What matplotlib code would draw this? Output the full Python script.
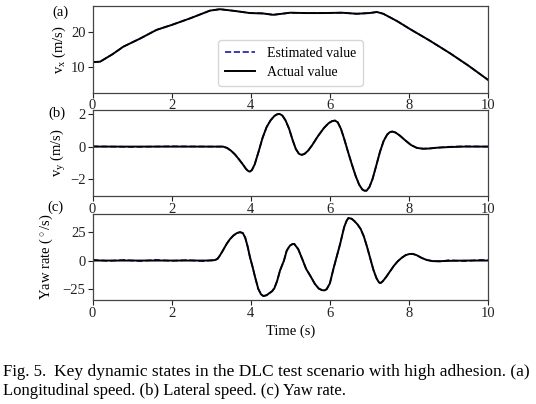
import matplotlib
matplotlib.use("Agg")
import matplotlib.pyplot as plt

plt.rcParams['font.family'] = ['Liberation Serif', 'DejaVu Serif']
plt.rcParams['mathtext.fontset'] = 'custom'
plt.rcParams['mathtext.rm'] = 'Liberation Serif'
plt.rcParams['mathtext.it'] = 'Liberation Serif:italic'

# (a) longitudinal speed
t_vx = [0.0, 0.19, 0.5, 0.78, 1.2, 1.62, 2.0, 2.47, 2.97, 3.22, 3.6, 3.98, 4.3,
        4.57, 5.0, 5.4, 5.84, 6.3, 6.68, 7.0, 7.19, 7.35, 7.7, 8.03, 8.5, 9.04,
        9.5, 10.0]
vx_act = [11.3, 11.4, 13.5, 15.7, 18.0, 20.5, 21.9, 23.8, 26.0, 26.4, 25.9, 25.3,
          25.2, 24.8, 25.4, 25.3, 25.3, 25.4, 25.1, 25.3, 25.6, 25.1, 23.0, 20.7,
          17.6, 13.8, 10.3, 6.2]
vx_est = [11.2, 11.4, 13.5, 15.7, 18.0, 20.5, 21.9, 23.8, 26.0, 26.4, 25.9, 25.3,
          25.2, 24.8, 25.4, 25.3, 25.3, 25.4, 25.1, 25.3, 25.6, 25.1, 23.0, 20.7,
          17.6, 13.8, 10.3, 6.2]

# (b) lateral speed
t_vy = [0.0, 1.0, 2.0, 3.0, 3.3, 3.4, 3.5, 3.6, 3.7, 3.8, 3.88, 3.94, 3.98, 4.03,
        4.1, 4.2, 4.3, 4.4, 4.5, 4.6, 4.67, 4.73, 4.8, 4.88, 4.97, 5.06, 5.14, 5.22,
        5.29, 5.36, 5.45, 5.55, 5.7, 5.85, 5.97, 6.06, 6.13, 6.2, 6.28, 6.36, 6.45,
        6.55, 6.65, 6.74, 6.82, 6.88, 6.93, 7.0, 7.08, 7.17, 7.27, 7.36, 7.45, 7.52,
        7.58, 7.66, 7.76, 7.9, 8.05, 8.2, 8.35, 8.5, 8.7, 9.0, 9.4, 10.0]
vy_act = [0.0, 0.0, 0.0, 0.0, 0.0, -0.08, -0.25, -0.48, -0.78, -1.1, -1.38, -1.52,
          -1.54, -1.45, -1.1, -0.3, 0.55, 1.2, 1.62, 1.9, 2.0, 2.02, 1.92, 1.62, 1.1,
          0.4, -0.15, -0.45, -0.51, -0.45, -0.25, 0.08, 0.65, 1.15, 1.45, 1.58, 1.61,
          1.5, 1.1, 0.5, -0.25, -1.05, -1.8, -2.35, -2.65, -2.73, -2.72, -2.5, -2.0,
          -1.2, -0.3, 0.35, 0.75, 0.9, 0.93, 0.87, 0.7, 0.4, 0.1, -0.08, -0.13,
          -0.12, -0.07, -0.03, 0.0, 0.0]
vy_est = [0.02, -0.02, 0.02, 0.0, 0.0, -0.08, -0.25, -0.48, -0.78, -1.1, -1.38, -1.52,
          -1.54, -1.45, -1.1, -0.3, 0.55, 1.2, 1.62, 1.9, 2.0, 2.02, 1.92, 1.62, 1.1,
          0.4, -0.15, -0.45, -0.51, -0.45, -0.25, 0.08, 0.65, 1.15, 1.45, 1.58, 1.61,
          1.5, 1.1, 0.5, -0.25, -1.05, -1.8, -2.35, -2.65, -2.73, -2.72, -2.5, -2.0,
          -1.2, -0.3, 0.35, 0.75, 0.9, 0.93, 0.87, 0.7, 0.4, 0.1, -0.08, -0.13,
          -0.12, -0.07, -0.01, 0.02, 0.0]

# (c) yaw rate
t_r = [0.0, 0.4, 0.8, 1.2, 1.6, 2.0, 2.4, 2.8, 3.0, 3.1, 3.16, 3.22, 3.3, 3.39,
       3.47, 3.56, 3.65, 3.73, 3.8, 3.86, 3.92, 3.98, 4.05, 4.11, 4.19, 4.26, 4.32,
       4.4, 4.47, 4.54, 4.6, 4.67, 4.74, 4.84, 4.91, 4.99, 5.05, 5.1, 5.2, 5.3, 5.4,
       5.5, 5.62, 5.72, 5.8, 5.86, 5.92, 6.0, 6.09, 6.17, 6.26, 6.36, 6.42, 6.47,
       6.55, 6.62, 6.7, 6.78, 6.86, 6.94, 7.02, 7.1, 7.18, 7.24, 7.28, 7.34, 7.42,
       7.52, 7.62, 7.72, 7.82, 7.92, 8.02, 8.1, 8.2, 8.32, 8.45, 8.6, 8.8, 9.0, 9.4,
       9.8, 10.0]
r_act = [0.0, 0.0, 0.0, 0.0, 0.0, 0.0, 0.0, 0.0, 0.0, 0.5, 1.5, 4.4, 9.0, 14.5,
         18.5, 21.8, 24.0, 24.8, 24.0, 20.0, 12.5, 3.0, -6.0, -14.5, -24.7, -29.5,
         -31.0, -30.3, -28.5, -26.8, -24.0, -17.5, -8.7, 0.0, 8.7, 13.0, 14.3, 14.5,
         10.0, 1.5, -7.3, -13.0, -20.3, -24.5, -25.8, -26.1, -25.0, -20.0, -7.3, 3.0,
         14.5, 29.0, 34.5, 37.2, 36.5, 34.5, 31.5, 27.5, 21.0, 12.0, 2.0, -8.0,
         -15.5, -19.0, -19.7, -18.0, -14.5, -9.5, -4.5, -0.5, 2.5, 4.8, 5.8, 5.8,
         4.6, 2.3, 0.5, -0.5, -0.5, -0.3, 0.0, 0.0, 0.0]
r_est = [0.8, -0.4, 0.6, -0.5, 0.7, -0.3, 0.5, -0.6, 0.4, 0.5, 1.5, 4.4, 9.0, 14.5,
         18.5, 21.8, 24.0, 24.8, 24.0, 20.0, 12.5, 3.0, -6.0, -14.5, -24.7, -29.5,
         -31.0, -30.3, -28.5, -26.8, -24.0, -17.5, -8.7, 0.0, 8.7, 13.0, 14.3, 14.5,
         10.0, 1.5, -7.3, -13.0, -20.3, -24.5, -25.8, -26.1, -25.0, -20.0, -7.3, 3.0,
         14.5, 29.0, 34.5, 37.2, 36.5, 34.5, 31.5, 27.5, 21.0, 12.0, 2.0, -8.0,
         -15.5, -19.0, -19.7, -18.0, -14.5, -9.5, -4.5, -0.5, 2.5, 4.8, 5.8, 5.8,
         4.6, 2.3, 0.5, -0.5, -0.9, 0.4, -0.5, 0.6, 0.3]

x_ticks = [0, 2, 4, 6, 8, 10]

fig = plt.figure(figsize=(5.36, 4.04), dpi=100)
ax_a = fig.add_axes([0.1726, 0.771, 0.738, 0.214])
ax_b = fig.add_axes([0.1726, 0.515, 0.738, 0.213])
ax_c = fig.add_axes([0.1726, 0.257, 0.738, 0.214])

panels = [
    (ax_a, t_vx, vx_est, vx_act, (2.6, 27.3), [10, 20], r'v$_\mathrm{x}$ (m/s)', -0.063),
    (ax_b, t_vy, vy_est, vy_act, (-3.05, 2.27), [-2, 0, 2], r'v$_\mathrm{y}$ (m/s)', -0.063),
    (ax_c, t_r, r_est, r_act, (-34.6, 40.9), [-25, 0, 25], r'Yaw rate ($^\circ$/s)', -0.095),
]

for ax, t, est, act, ylim, yt, ylab, lx in panels:
    ax.plot(t, est, '--', color='#1a1aa0', lw=1.2, label='Estimated value')
    ax.plot(t, act, '-', color='black', lw=1.4, label='Actual value')
    ax.set_xlim(0, 10)
    ax.set_ylim(*ylim)
    ax.set_xticks(x_ticks)
    ax.set_yticks(yt)
    ax.tick_params(labelsize=10.5, length=3.5, width=0.8, pad=1.5, colors='#222222')
    ax.set_ylabel(ylab, fontsize=10.5)
    ax.yaxis.set_label_coords(lx, 0.5)
    for s in ax.spines.values():
        s.set_color('#444444')
        s.set_linewidth(0.9)

ax_a.legend(loc='lower center', fontsize=10, frameon=True, handlelength=2.2,
            borderpad=0.5, labelspacing=0.4)
ax_c.set_xlabel('Time (s)', fontsize=10.5, labelpad=3)

fig.text(0.097, 0.970, '(a)', fontsize=10.5, ha='left', va='center')
fig.text(0.090, 0.720, '(b)', fontsize=10.5, ha='left', va='center')
fig.text(0.088, 0.487, '(c)', fontsize=10.5, ha='left', va='center')

# caption, first line justified to the full width like the paper
fig.text(0.006, 0.079, 'Fig. 5.', fontsize=12, ha='left', va='center')
fig.text(0.989, 0.079, 'Key dynamic states in the DLC test scenario with high adhesion. (a)',
         fontsize=12.5, ha='right', va='center')
fig.text(0.006, 0.033, 'Longitudinal speed. (b) Lateral speed. (c) Yaw rate.',
         fontsize=12, ha='left', va='center')

fig.savefig('out.png', dpi=100)
